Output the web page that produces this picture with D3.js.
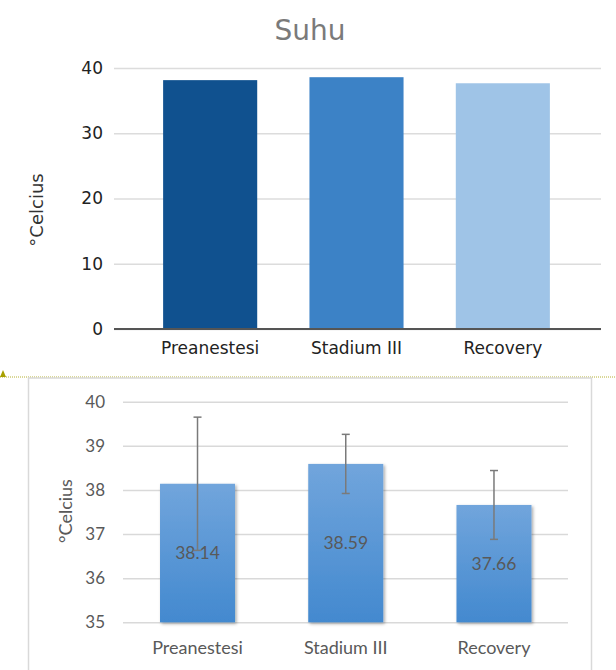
<!DOCTYPE html>
<html><head><meta charset="utf-8">
<script src="https://cdn.jsdelivr.net/npm/d3@7"></script>
<style>body{margin:0;background:#fff}svg{display:block}</style>
</head><body>
<svg id="c" width="616" height="670"></svg>
<script>
const categories = ["Preanestesi", "Stadium III", "Recovery"];
const meanValues = [38.14, 38.59, 37.66];
const sdValues = [1.51, 0.67, 0.78];
const topTicks = [0, 10, 20, 30, 40];
const bottomTicks = [35, 36, 37, 38, 39, 40];
const topColors = ["#10518f", "#3c82c6", "#9fc4e7"];
const topTitle = "Suhu";
const yTitle = "°Celcius";

const svg = d3.select("#c");
const defs = svg.append("defs");
const grad = defs.append("linearGradient").attr("id","bg").attr("x1",0).attr("x2",0).attr("y1",0).attr("y2",1);
grad.append("stop").attr("offset","0%").attr("stop-color","#71a5dc");
grad.append("stop").attr("offset","100%").attr("stop-color","#4389cf");
const f = defs.append("filter").attr("id","sh").attr("x","-20%").attr("y","-20%").attr("width","150%").attr("height","150%");
f.append("feDropShadow").attr("dx",1.5).attr("dy",1.5).attr("stdDeviation",1.5).attr("flood-color","#000").attr("flood-opacity",0.35);

// ---------- TOP CHART ----------
const tFont = "'DejaVu Sans', sans-serif";
const ty = d3.scaleLinear().domain([0,40]).range([329,68]);
const tx = d3.scaleBand().domain(categories).range([137,576]).paddingInner(0.357).paddingOuter(0.1785);
const tL = 114, tR = 601;

svg.append("text").attr("x",310).attr("y",40).attr("text-anchor","middle")
  .attr("font-family",tFont).attr("font-size",28).attr("fill","#7a7a7a").text(topTitle);

const tyAxis = svg.append("g").attr("transform",`translate(${tL},0)`)
  .call(d3.axisLeft(ty).tickValues(topTicks).tickSize(-(tR-tL)).tickPadding(11).tickFormat(d3.format("d")));
tyAxis.select(".domain").remove();
tyAxis.selectAll("line").attr("stroke","#dcdcdc").attr("stroke-width",1.5);
tyAxis.selectAll("text").attr("font-family",tFont).attr("font-size",17).attr("fill","#222");

svg.append("g").selectAll("rect").data(categories).join("rect")
  .attr("x",d=>tx(d)).attr("width",tx.bandwidth())
  .attr("y",(d,i)=>ty(meanValues[i])).attr("height",(d,i)=>ty(0)-ty(meanValues[i]))
  .attr("fill",(d,i)=>topColors[i]);

svg.append("line").attr("x1",tL).attr("x2",tR).attr("y1",ty(0)).attr("y2",ty(0))
  .attr("stroke","#555").attr("stroke-width",2);

const txAxis = svg.append("g").attr("transform",`translate(0,${ty(0)})`)
  .call(d3.axisBottom(tx).tickSize(0).tickPadding(13));
txAxis.select(".domain").remove();
txAxis.selectAll("text").attr("font-family",tFont).attr("font-size",17).attr("fill","#222");

svg.append("text").attr("transform","translate(37,210) rotate(-90)").attr("text-anchor","middle")
  .attr("dy","0.35em").attr("font-family",tFont).attr("font-size",18).attr("fill","#333").text(yTitle);

// ---------- DIVIDER ----------
svg.append("line").attr("x1",0).attr("x2",616).attr("y1",377).attr("y2",377)
  .attr("stroke","#b5b030").attr("stroke-width",1).attr("stroke-dasharray","1,1");
svg.append("path").attr("d","M0,377 L3,370 L6,377 Z").attr("fill","#a8a000");

// ---------- BOTTOM CHART ----------
const bFont = "Lato, 'Open Sans', sans-serif";
svg.append("rect").attr("x",28.5).attr("y",378).attr("width",563).attr("height",300)
  .attr("fill","none").attr("stroke","#d9d9d9").attr("stroke-width",1.5);

const by = d3.scaleLinear().domain([35,40]).range([622.3,401.7]);
const bx = d3.scaleBand().domain(categories).range([123.4,568.1]).paddingInner(0.494).paddingOuter(0.247);
const bL = 123, bR = 568;

const byAxis = svg.append("g").attr("transform",`translate(${bL},0)`)
  .call(d3.axisLeft(by).tickValues(bottomTicks).tickSize(-(bR-bL)).tickPadding(18).tickFormat(d3.format("d")));
byAxis.select(".domain").remove();
byAxis.selectAll("line").attr("stroke","#d9d9d9").attr("stroke-width",1.5);
byAxis.selectAll("text").attr("font-family",bFont).attr("font-size",17).attr("fill","#595959");

svg.append("g").selectAll("rect").data(categories).join("rect")
  .attr("x",d=>bx(d)).attr("width",bx.bandwidth())
  .attr("y",(d,i)=>by(meanValues[i])).attr("height",(d,i)=>by(35)-by(meanValues[i]))
  .attr("fill","url(#bg)").attr("filter","url(#sh)");

svg.append("g").selectAll("text").data(categories).join("text")
  .attr("x",d=>bx(d)+bx.bandwidth()/2)
  .attr("y",(d,i)=>(by(meanValues[i])+by(35))/2).attr("dy","0.35em")
  .attr("text-anchor","middle").attr("font-family",bFont).attr("font-size",17.5).attr("fill","#595959")
  .text((d,i)=>meanValues[i].toFixed(2));

const eb = svg.append("g").attr("stroke","#7a7a7a").attr("stroke-width",1.5);
categories.forEach((c,i)=>{
  const cx = bx(c)+bx.bandwidth()/2;
  const hi = by(meanValues[i]+sdValues[i]), lo = by(meanValues[i]-sdValues[i]);
  eb.append("line").attr("x1",cx).attr("x2",cx).attr("y1",hi).attr("y2",lo);
  eb.append("line").attr("x1",cx-4).attr("x2",cx+4).attr("y1",hi).attr("y2",hi);
  eb.append("line").attr("x1",cx-4).attr("x2",cx+4).attr("y1",lo).attr("y2",lo);
});

const bxAxis = svg.append("g").attr("transform",`translate(0,${by(35)})`)
  .call(d3.axisBottom(bx).tickSize(0).tickPadding(19));
bxAxis.select(".domain").remove();
bxAxis.selectAll("text").attr("font-family",bFont).attr("font-size",18).attr("fill","#595959");

svg.append("text").attr("transform","translate(66,511) rotate(-90)").attr("text-anchor","middle")
  .attr("dy","0.35em").attr("font-family",bFont).attr("font-size",18).attr("fill","#595959").text(yTitle);
</script>
</body></html>
